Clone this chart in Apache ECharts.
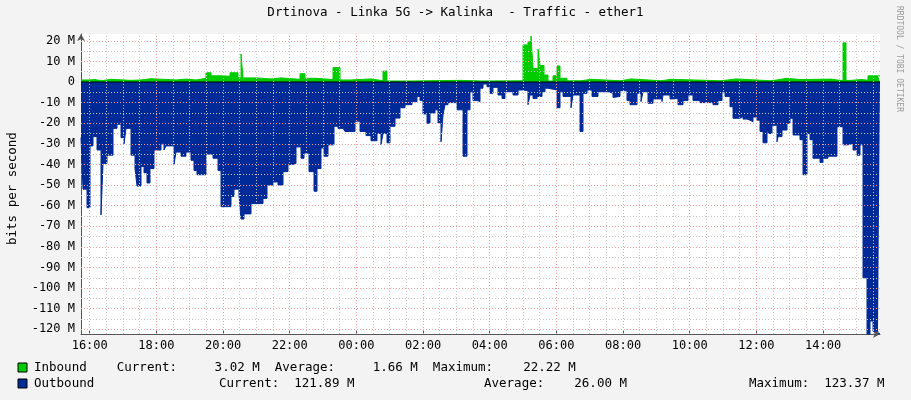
<!DOCTYPE html>
<html><head><meta charset="utf-8">
<script src="https://cdn.jsdelivr.net/npm/echarts@6/dist/echarts.min.js"></script>
<style>html,body{margin:0;padding:0;background:#f3f3f3}#c{width:911px;height:400px}</style>
</head><body><div id="c"></div>
<script>
// Samples: [rrd pixel index, value in M bits/s]; one pixel = STEP_MIN minutes, index 0 = START_MIN from 16:00
const STEP_MIN = 1.8;
const START_MIN = -15.7;
const LAST_IDX = 799;
const outbound = [[0,-27],[2,-52],[6,-61],[9,-31],[12,-26.5],[16,-33],[20,-64.5],[22,-39.5],[26,-35.5],[32,-22.5],[36,-20.5],[40,-27],[43,-30],[45,-22.5],[50,-35.5],[54,-42],[56,-50.5],[60,-41],[63,-44],[66,-49],[69,-42],[73,-33],[80,-30],[83,-33],[85,-31],[93,-40],[95,-34],[100,-36],[105,-34],[110,-38],[113,-43],[116,-45],[125,-35],[132,-37],[137,-43],[140,-60.5],[150,-55.5],[153,-52],[158,-55],[160,-66.5],[163,-64],[170,-59],[175,-59],[182,-56.5],[186,-50],[192,-48.5],[197,-50],[202,-43.5],[207,-40],[212,-39.5],[215,-31.5],[220,-37],[223,-34.5],[228,-43.5],[233,-53],[236,-42],[240,-32],[243,-36],[247,-30.5],[253,-21.5],[257,-22.5],[262,-23],
[264,-24],[274,-19],[279,-24],[285,-26],[290,-28.5],[296,-25],[300,-30.5],[302,-25],[306,-29.5],[309,-21.5],[314,-17.5],[319,-12.5],[324,-11],[331,-9.5],[336,-7],[339,-9],[342,-15.5],[346,-20],[349,-15],[354,-13.5],[357,-20],[360,-29],[362,-16],[364,-11],[367,-10],[376,-13.5],[382,-36],[386,-13.5],[389,-4.7],[392,-9],[396,-9.5],[399,-3],[402,-1],[406,-2.3],[409,-5.5],[412,-2.6],[417,-6.3],[421,-8],[424,-4.7],[432,-6.3],[437,-3.9],[442,-4.2],[447,-11],[449,-6.3],[452,-8],[456,-7],[461,-4.7],[464,-3],[467,-3.9],[476,-12.5],[479,-4.7],[482,-7],[490,-12.5],[492,-6.3],[499,-24],[502,-5.5],[506,-3.9],[511,-7],[517,-4.7],[527,-5.5],[532,-7.5],
[534,-7],[539,-4.2],[546,-9],[549,-11],[556,-5.5],[560,-9.5],[562,-4.7],[567,-10.3],[572,-8.2],[581,-9.5],[582,-6.3],[589,-8.2],[592,-8],[597,-11],[602,-9],[607,-6.3],[612,-9],[619,-10],[632,-11],[637,-9],[641,-4.7],[644,-7],[649,-12],[652,-17.6],[659,-16.8],[662,-18],[666,-18.5],[669,-19.3],[672,-17],[676,-18.5],[679,-24],[682,-29.5],[686,-21],[687,-25],[691,-21],[696,-29],[697,-26.5],[701,-23.3],[706,-20],[709,-17.6],[712,-25.7],[719,-28],[722,-45],[726,-25],[729,-28],[732,-37],[739,-39],[742,-37],[747,-36],[756,-21.7],[762,-30.5],[767,-29.8],[772,-33],[776,-35.5],[779,-30.5],[782,-95],[786,-123.6],[789,-116],[792,-121],[797,-122]];
const inbound = [[0,1],[8,1.2],[14,0.6],[20,1.3],[30,0.8],[50,1],[60,1.6],[70,1],[95,1.4],[105,1],[115,1.8],[125,4.5],[130,3],[140,2.8],[149,4.5],[157,2],[160,13.6],[162,2],[175,1.5],[190,2],[200,1.3],[219,4],[224,1.8],[235,1.2],[252,7],[259,1],[270,1.5],[290,0.6],[302,5.3],[306,0.5],[330,0.8],[380,0.5],[400,0.6],[442,18],[447,19.6],[450,22.3],[452,6.6],[457,16],[459,8],[463,3.4],[467,0.5],[472,3],[476,7.8],[479,1.8],[486,0.6],[500,1.3],[510,0.6],[540,1.5],[550,0.6],[580,1.3],[590,0.6],[640,1.5],[655,0.6],[690,1.3],[700,1.8],[705,1.2],[720,1.4],[750,0.6],[762,19],[765,0.8],[770,1.2],[780,0.9],[787,3],[797,3]];
const yTicks = [20,10,0,-10,-20,-30,-40,-50,-60,-70,-80,-90,-100,-110,-120];
const xTickLabels = ['16:00','18:00','20:00','22:00','00:00','02:00','04:00','06:00','08:00','10:00','12:00','14:00'];
const legendIn = 'Inbound    Current:     3.02 M  Average:     1.66 M  Maximum:    22.22 M';
const legendOut = ['Outbound','Current:  121.89 M','Average:    26.00 M','Maximum:  123.37 M'];

const toPts = arr => {const p = arr.map(d=>[START_MIN + d[0]*STEP_MIN, d[1]]); p.push([START_MIN+LAST_IDX*STEP_MIN, arr[arr.length-1][1]]); return p;};
const xMin = START_MIN, xMax = START_MIN + LAST_IDX*STEP_MIN;
const yMin = -122.3, yMax = 23.3;
const vMinor=[], vMajor=[], hMinor=[], hMajor=[];
for(let m=0;m<=xMax;m+=30){ (m%120===0?vMajor:vMinor).push({xAxis:m}); }
for(let v=-120;v<=20;v+=5){ if(v===0) continue; (v%10===0?hMajor:hMinor).push({yAxis:v}); }
const mono = 'DejaVu Sans Mono';
const chart = echarts.init(document.getElementById('c'));
chart.setOption({
  animation:false,
  backgroundColor:'#f3f3f3',
  grid:{left:81,right:31,top:34,bottom:66,show:true,backgroundColor:'#ffffff',borderWidth:0},
  xAxis:{type:'value',min:xMin,max:xMax,
    axisLine:{onZero:false,lineStyle:{color:'#555'},symbol:['none','arrow'],symbolSize:[6,7]},
    axisTick:{show:true,customValues:xTickLabels.map((_,i)=>i*120),length:3,inside:true,lineStyle:{color:'#555'}},
    splitLine:{show:false},
    axisLabel:{customValues:xTickLabels.map((_,i)=>i*120),formatter:v=>xTickLabels[Math.round(v/120)],color:'#000',fontFamily:mono,fontSize:12,margin:6}},
  yAxis:{type:'value',min:yMin,max:yMax,
    axisLine:{show:true,onZero:false,lineStyle:{color:'#555'},symbol:['none','arrow'],symbolSize:[6,7]},
    axisTick:{show:false},splitLine:{show:false},
    axisLabel:{customValues:yTicks,formatter:v=>v===0?'0':v+' M',color:'#000',fontFamily:mono,fontSize:12,margin:6}},
  series:[
    {type:'line',data:[],silent:true,markLine:{silent:true,symbol:'none',label:{show:false},animation:false,
      data:[...vMinor.map(d=>Object.assign({lineStyle:{color:'#c8c8c8',type:[1,2],width:1}},d)),
            ...hMinor.map(d=>Object.assign({lineStyle:{color:'#c8c8c8',type:[1,2],width:1}},d)),
            ...vMajor.map(d=>Object.assign({lineStyle:{color:'#f0a0a0',type:[1,2],width:1}},d)),
            ...hMajor.map(d=>Object.assign({lineStyle:{color:'#f0a0a0',type:[1,2],width:1}},d))]}},
    {name:'Outbound',type:'line',step:'end',data:toPts(outbound),symbol:'none',z:3,
      lineStyle:{color:'#002a97',width:1},areaStyle:{color:'#002a97',opacity:1}},
    {name:'Inbound',type:'line',step:'end',data:toPts(inbound),symbol:'none',z:3,
      lineStyle:{color:'#00cc00',width:1},areaStyle:{color:'#00cc00',opacity:1}},
    {type:'line',data:[[xMin,0],[xMax,0]],symbol:'none',z:4,lineStyle:{color:'#000',width:1},silent:true}
  ],
  graphic:[
    {type:'text',left:'center',top:6,style:{text:'Drtinova - Linka 5G -> Kalinka  - Traffic - ether1',font:'12.5px "DejaVu Sans Mono"',fill:'#000'}},
    {type:'text',x:6,y:245,rotation:Math.PI/2,style:{text:'bits per second',font:'12.5px "DejaVu Sans Mono"',fill:'#000'}},
    {type:'text',x:903,y:6,rotation:-Math.PI/2,style:{text:'RRDTOOL / TOBI OETIKER',font:'8px "DejaVu Sans Mono"',fill:'#999'}},
    {type:'rect',shape:{x:18,y:363,width:9,height:9},style:{fill:'#00cc00',stroke:'#000',lineWidth:1}},
    {type:'rect',shape:{x:18,y:379,width:9,height:9},style:{fill:'#002a97',stroke:'#000',lineWidth:1}},
    {type:'text',x:34,y:361,style:{text:legendIn,font:'12.5px "DejaVu Sans Mono"',fill:'#000'}},
    {type:'text',x:34,y:377,style:{text:legendOut[0],font:'12.5px "DejaVu Sans Mono"',fill:'#000'}},
    {type:'text',x:219,y:377,style:{text:legendOut[1],font:'12.5px "DejaVu Sans Mono"',fill:'#000'}},
    {type:'text',x:484,y:377,style:{text:legendOut[2],font:'12.5px "DejaVu Sans Mono"',fill:'#000'}},
    {type:'text',x:749,y:377,style:{text:legendOut[3],font:'12.5px "DejaVu Sans Mono"',fill:'#000'}}
  ]
});
</script></body></html>
